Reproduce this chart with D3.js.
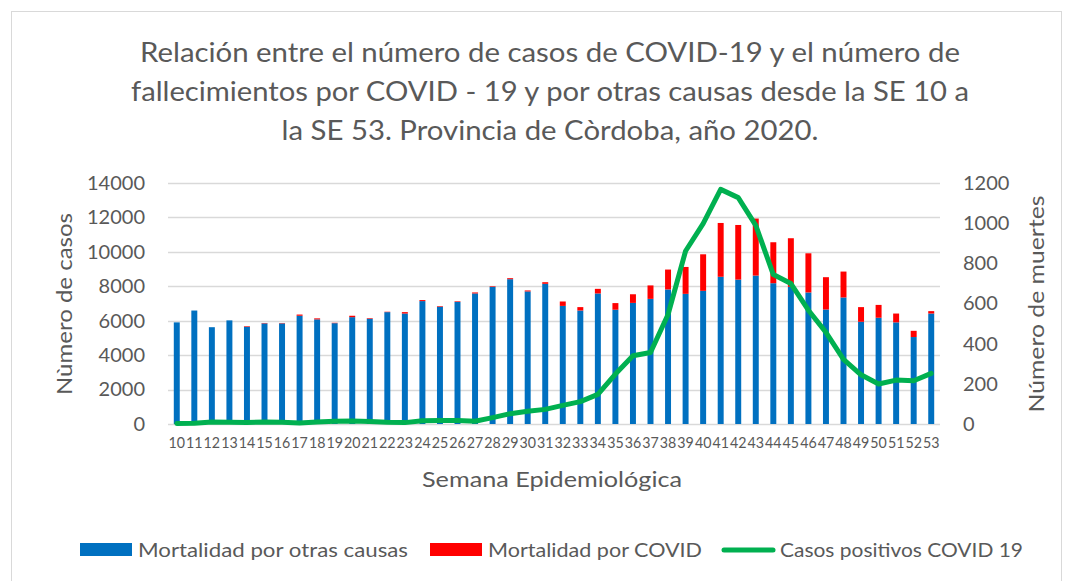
<!doctype html>
<html>
<head>
<meta charset="utf-8">
<script src="https://d3js.org/d3.v7.min.js"></script>
<style>
    body { margin: 0; background: #fff; }
    text { font-family: Lato, "Open Sans", sans-serif; fill: #595959; }
</style>
</head>
<body>
<script>
    // semanas epidemiologicas
    var weeks = d3.range(10, 54).map(String);

    // mortalidad por otras causas (eje derecho)
    var otras = [506, 565, 482, 516, 484, 501, 501, 539, 521, 502, 532, 524, 557, 550,
        612, 584, 608, 650, 683, 721, 660, 698, 588, 565, 650, 569, 603, 623,
        670, 648, 663, 733, 719, 739, 701, 683, 655, 570, 630, 509, 529, 506, 433, 550];

    // mortalidad por covid (eje derecho)
    var covid = [0, 0, 0, 0, 3, 2, 2, 6, 5, 2, 7, 3, 2, 7,
        5, 3, 3, 5, 3, 5, 5, 8, 22, 17, 23, 33, 43, 67,
        99, 134, 182, 268, 272, 284, 204, 242, 195, 161, 129, 73, 64, 44, 31, 12];

    // casos positivos (eje izquierdo)
    var casos = [30, 50, 120, 100, 80, 120, 100, 60, 120, 160, 170, 150, 100, 80,
        190, 200, 210, 160, 370, 600, 740, 850, 1080, 1300, 1720, 2900, 3960, 4150,
        6360, 10050, 11640, 13630, 13150, 11540, 8680, 8160, 6610, 5320, 3750, 2860, 2320, 2550, 2510, 2940];

    var leftTicks = [0, 2000, 4000, 6000, 8000, 10000, 12000, 14000];
    var rightTicks = [0, 200, 400, 600, 800, 1000, 1200];

    var W = 1073, H = 581;
    var margin = {top: 183, right: 133, bottom: 157, left: 168};
    var width = W - margin.left - margin.right,
        height = H - margin.top - margin.bottom;

    var svg = d3.select("body").append("svg")
        .attr("width", W)
        .attr("height", H);

    // marco del grafico
    svg.append("rect")
        .attr("x", 11.5).attr("y", 11.5)
        .attr("width", 1050).attr("height", 580)
        .attr("fill", "none")
        .attr("stroke", "#d9d9d9");

    var g = svg.append("g")
        .attr("transform", "translate(" + margin.left + "," + margin.top + ")");

    var x = d3.scaleBand().domain(weeks).range([0, width]).paddingInner(0.66).paddingOuter(0.33);
    var yL = d3.scaleLinear().domain([0, 14000]).range([height, 0]);
    var yR = d3.scaleLinear().domain([0, 1200]).range([height, 0]);

    // grid
    g.append("g").selectAll("line")
        .data(leftTicks)
        .enter().append("line")
        .attr("x1", 0).attr("x2", width)
        .attr("y1", function (d) { return Math.round(yL(d)) + 0.5; })
        .attr("y2", function (d) { return Math.round(yL(d)) + 0.5; })
        .attr("stroke", "#d9d9d9")
        .attr("stroke-width", 1.5);

    // ejes
    var axL = g.append("g")
        .call(d3.axisLeft(yL).tickValues(leftTicks).tickFormat(d3.format("d")).tickSize(0).tickPadding(23));
    var axR = g.append("g")
        .attr("transform", "translate(" + width + ",0)")
        .call(d3.axisRight(yR).tickValues(rightTicks).tickFormat(d3.format("d")).tickSize(0).tickPadding(23));
    var axB = g.append("g")
        .attr("transform", "translate(0," + height + ")")
        .call(d3.axisBottom(x).tickSize(0).tickPadding(13));

    [axL, axR, axB].forEach(function (a) { a.select(".domain").remove(); });
    axL.selectAll("text").attr("font-size", "20px").attr("font-family", "Lato");
    axR.selectAll("text").attr("font-size", "20px").attr("font-family", "Lato");
    axB.selectAll("text").attr("font-size", "15px").attr("font-family", "Lato")
        .attr("textLength", 16.5).attr("lengthAdjust", "spacingAndGlyphs");

    // barras apiladas
    var bars = g.append("g");
    bars.selectAll(".otras")
        .data(weeks)
        .enter().append("rect")
        .attr("x", function (d) { return x(d); })
        .attr("width", x.bandwidth())
        .attr("y", function (d, i) { return yR(otras[i]); })
        .attr("height", function (d, i) { return yR(0) - yR(otras[i]); })
        .attr("fill", "#0070C0");

    bars.selectAll(".covid")
        .data(weeks)
        .enter().append("rect")
        .attr("x", function (d) { return x(d); })
        .attr("width", x.bandwidth())
        .attr("y", function (d, i) { return yR(otras[i] + covid[i]); })
        .attr("height", function (d, i) { return yR(otras[i]) - yR(otras[i] + covid[i]); })
        .attr("fill", "#FF0000");

    // linea de casos
    var line = d3.line()
        .x(function (d, i) { return x(weeks[i]) + x.bandwidth() / 2; })
        .y(function (d) { return yL(d); });

    g.append("path")
        .datum(casos)
        .attr("d", line)
        .attr("fill", "none")
        .attr("stroke", "#00B050")
        .attr("stroke-width", 5)
        .attr("stroke-linejoin", "round")
        .attr("stroke-linecap", "round");

    // titulo (x, ancho aproximados del original)
    var title = [
        {t: "Relación entre el número de casos de COVID-19 y el número de", w: 820},
        {t: "fallecimientos por COVID - 19 y por otras causas desde la SE 10 a", w: 838},
        {t: "la SE 53. Provincia de Còrdoba, año 2020.", w: 537}];
    svg.append("g").selectAll("text")
        .data(title)
        .enter().append("text")
        .attr("text-anchor", "middle")
        .attr("font-size", "26px")
        .attr("x", 550)
        .attr("y", function (d, i) { return 62 + i * 39; })
        .attr("textLength", function (d) { return d.w; })
        .attr("lengthAdjust", "spacingAndGlyphs")
        .text(function (d) { return d.t; });

    // titulos de ejes
    svg.append("text")
        .attr("transform", "translate(72," + 304 + ") rotate(-90)")
        .attr("text-anchor", "middle")
        .attr("font-size", "22px")
        .attr("textLength", 182).attr("lengthAdjust", "spacingAndGlyphs")
        .text("Nùmero de casos");

    svg.append("text")
        .attr("transform", "translate(1044," + 304 + ") rotate(-90)")
        .attr("text-anchor", "middle")
        .attr("font-size", "22px")
        .attr("textLength", 217).attr("lengthAdjust", "spacingAndGlyphs")
        .text("Número de muertes");

    svg.append("text")
        .attr("x", 552)
        .attr("y", 487)
        .attr("text-anchor", "middle")
        .attr("font-size", "21px")
        .attr("textLength", 260).attr("lengthAdjust", "spacingAndGlyphs")
        .text("Semana Epidemiológica");

    // leyenda
    var legend = svg.append("g");
    legend.append("rect").attr("x", 80).attr("y", 543).attr("width", 52).attr("height", 13).attr("fill", "#0070C0");
    legend.append("text").attr("x", 138).attr("y", 557).attr("font-size", "19px")
        .attr("textLength", 270).attr("lengthAdjust", "spacingAndGlyphs").text("Mortalidad por otras causas");
    legend.append("rect").attr("x", 430).attr("y", 543).attr("width", 52).attr("height", 13).attr("fill", "#FF0000");
    legend.append("text").attr("x", 488).attr("y", 557).attr("font-size", "19px")
        .attr("textLength", 214).attr("lengthAdjust", "spacingAndGlyphs").text("Mortalidad por COVID");
    legend.append("line").attr("x1", 724).attr("x2", 773).attr("y1", 550).attr("y2", 550)
        .attr("stroke", "#00B050").attr("stroke-width", 5).attr("stroke-linecap", "round");
    legend.append("text").attr("x", 780).attr("y", 557).attr("font-size", "19px")
        .attr("textLength", 243).attr("lengthAdjust", "spacingAndGlyphs").text("Casos positivos COVID 19");
</script>
</body>
</html>
